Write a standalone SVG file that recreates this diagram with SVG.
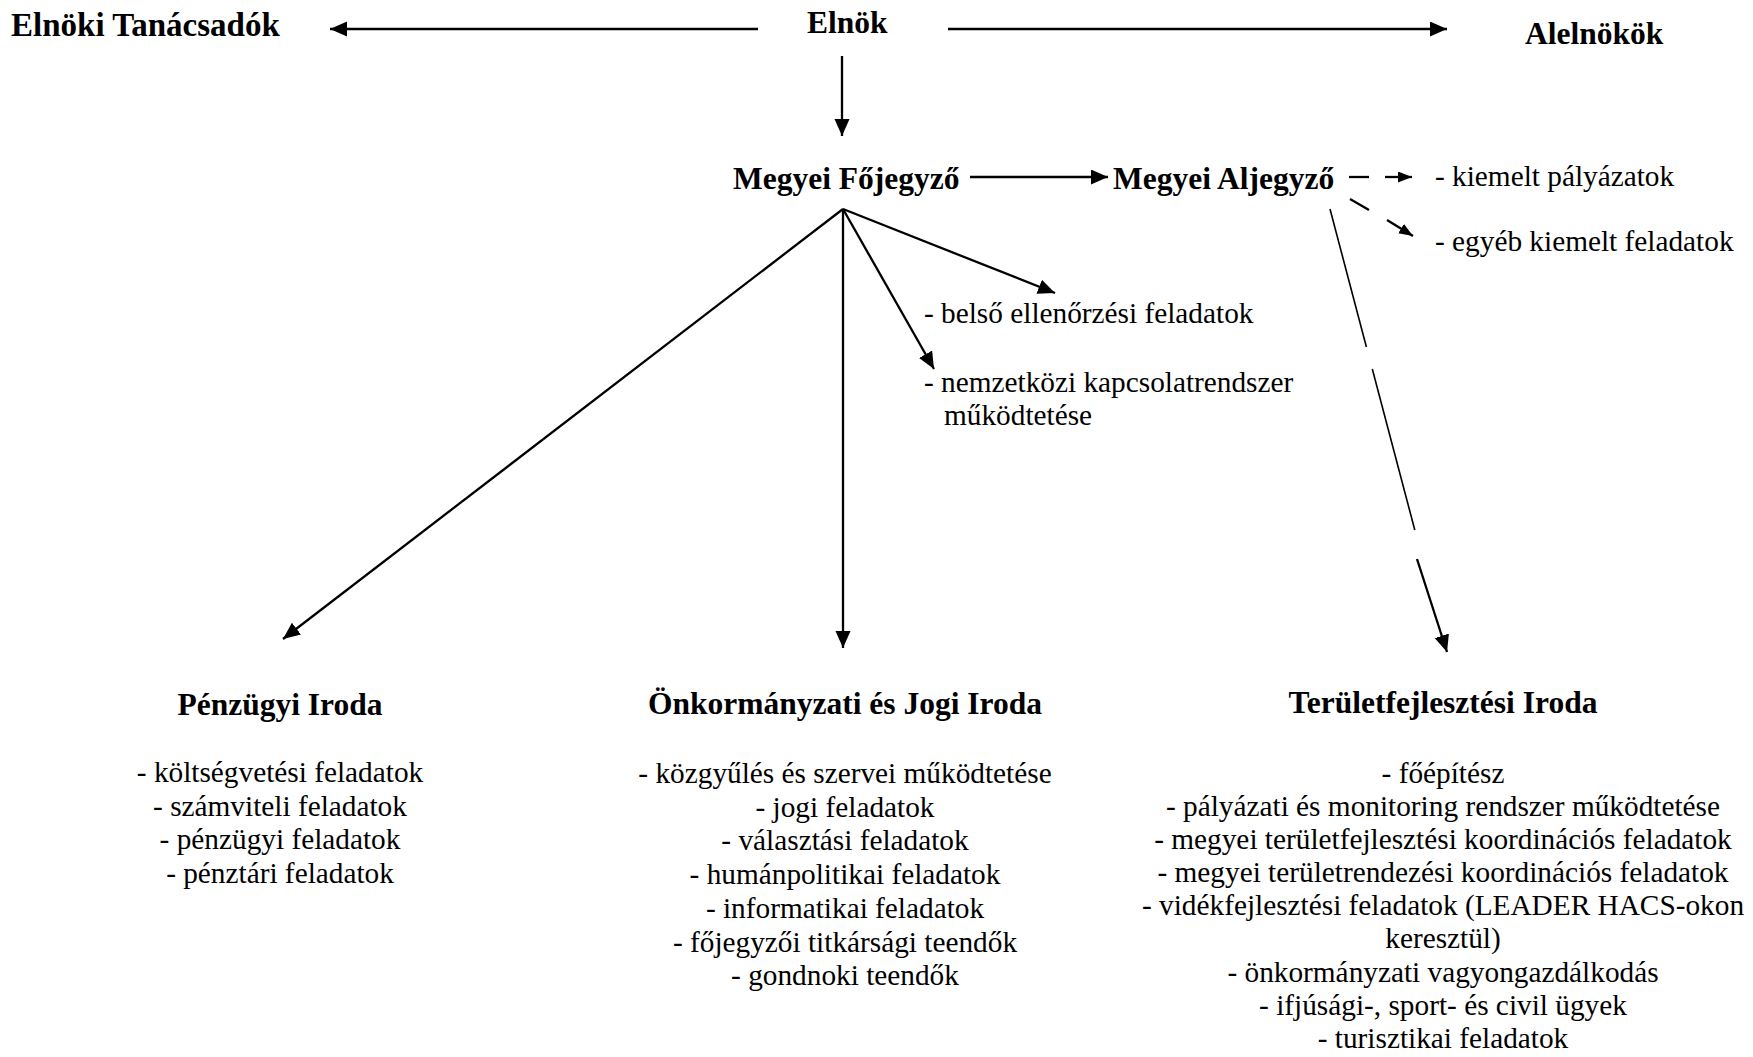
<svg xmlns="http://www.w3.org/2000/svg" width="1753" height="1057" viewBox="0 0 1753 1057">
<style>
.h{font-family:'Liberation Serif','Times New Roman',serif;font-weight:bold;font-size:31.5px;fill:#000}
.t{font-family:'Liberation Serif','Times New Roman',serif;font-size:29.3px;fill:#000}
.c{text-anchor:middle}
.ln{stroke:#000;stroke-width:2.3;fill:none}
.thin{stroke:#000;stroke-width:1.6;fill:none}
</style>
<defs>
<marker id="ah" markerUnits="userSpaceOnUse" markerWidth="18" markerHeight="16" refX="17" refY="7.5" orient="auto">
<path d="M0,0 L17,7.5 L0,15 z" fill="#000"/>
</marker>
<marker id="as" markerUnits="userSpaceOnUse" markerWidth="15" markerHeight="12" refX="14" refY="5.5" orient="auto">
<path d="M0,0 L14,5.5 L0,11 z" fill="#000"/>
</marker>
</defs>
<rect width="1753" height="1057" fill="#fff"/>
<g id="connectors">
<line class="ln" x1="758" y1="29" x2="330" y2="29" marker-end="url(#ah)"/>
<line class="ln" x1="948" y1="29" x2="1447" y2="29" marker-end="url(#ah)"/>
<line class="ln" x1="842" y1="56" x2="842" y2="136" marker-end="url(#ah)"/>
<line class="ln" x1="970" y1="177" x2="1108" y2="177" marker-end="url(#ah)"/>
<line class="ln" x1="1349" y1="177" x2="1369" y2="177"/>
<line class="ln" x1="1385" y1="177" x2="1412" y2="177" marker-end="url(#as)"/>
<line class="ln" x1="1350" y1="199" x2="1369" y2="210"/>
<line class="ln" x1="1387" y1="220" x2="1413" y2="236" marker-end="url(#as)"/>
<line class="ln" x1="843" y1="209" x2="283" y2="639" marker-end="url(#ah)"/>
<line class="ln" x1="843" y1="209" x2="843" y2="648" marker-end="url(#ah)"/>
<line class="ln" x1="843" y1="209" x2="934" y2="369" marker-end="url(#ah)"/>
<line class="ln" x1="843" y1="209" x2="1055" y2="293" marker-end="url(#ah)"/>
<line class="thin" x1="1330" y1="209" x2="1366.4" y2="347"/>
<line class="thin" x1="1372.3" y1="369" x2="1414.8" y2="530"/>
<line class="ln" x1="1417" y1="559" x2="1447" y2="652" marker-end="url(#ah)"/>
</g>
<g id="elnoki-tanacsadok"><text class="h" x="11" y="36" style="font-size:33px">Elnöki Tanácsadók</text></g>
<g id="elnok"><text class="h" x="807" y="33">Elnök</text></g>
<g id="alelnokok"><text class="h" x="1525" y="44">Alelnökök</text></g>
<g id="megyei-fojegyzo"><text class="h" x="733" y="189">Megyei Főjegyző</text></g>
<g id="megyei-aljegyzo"><text class="h" x="1113" y="189">Megyei Aljegyző</text></g>
<g id="kiemelt-palyazatok"><text class="t" x="1435" y="186">- kiemelt pályázatok</text></g>
<g id="egyeb-kiemelt"><text class="t" x="1435" y="251">- egyéb kiemelt feladatok</text></g>
<g id="belso-ellenorzesi"><text class="t" x="924" y="323">- belső ellenőrzési feladatok</text></g>
<g id="nemzetkozi"><text class="t" x="924" y="392">- nemzetközi kapcsolatrendszer</text><text class="t" x="944" y="425">működtetése</text></g>
<g id="penzugyi-iroda">
<text class="h c" x="280" y="715">Pénzügyi Iroda</text>
<text class="t c" x="280" y="782">- költségvetési feladatok</text>
<text class="t c" x="280" y="815.5">- számviteli feladatok</text>
<text class="t c" x="280" y="849">- pénzügyi feladatok</text>
<text class="t c" x="280" y="882.5">- pénztári feladatok</text>
</g>
<g id="onkormanyzati-jogi-iroda">
<text class="h c" x="845" y="714">Önkormányzati és Jogi Iroda</text>
<text class="t c" x="845" y="783">- közgyűlés és szervei működtetése</text>
<text class="t c" x="845" y="817">- jogi feladatok</text>
<text class="t c" x="845" y="850">- választási feladatok</text>
<text class="t c" x="845" y="884">- humánpolitikai feladatok</text>
<text class="t c" x="845" y="918">- informatikai feladatok</text>
<text class="t c" x="845" y="952">- főjegyzői titkársági teendők</text>
<text class="t c" x="845" y="985">- gondnoki teendők</text>
</g>
<g id="teruletfejlesztesi-iroda">
<text class="h c" x="1443" y="713">Területfejlesztési Iroda</text>
<text class="t c" x="1443" y="783">- főépítész</text>
<text class="t c" x="1443" y="816">- pályázati és monitoring rendszer működtetése</text>
<text class="t c" x="1443" y="849">- megyei területfejlesztési koordinációs feladatok</text>
<text class="t c" x="1443" y="882">- megyei területrendezési koordinációs feladatok</text>
<text class="t c" x="1443" y="915">- vidékfejlesztési feladatok (LEADER HACS-okon</text>
<text class="t c" x="1443" y="948">keresztül)</text>
<text class="t c" x="1443" y="982">- önkormányzati vagyongazdálkodás</text>
<text class="t c" x="1443" y="1015">- ifjúsági-, sport- és civil ügyek</text>
<text class="t c" x="1443" y="1048">- turisztikai feladatok</text>
</g>
</svg>
